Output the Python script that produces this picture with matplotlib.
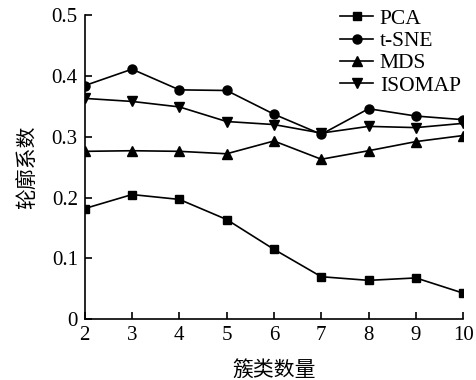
import matplotlib
matplotlib.use('Agg')
import matplotlib.pyplot as plt

plt.rcParams['font.family'] = ['Liberation Serif', 'Noto Sans CJK SC']

# Data
clusters = [2, 3, 4, 5, 6, 7, 8, 9, 10]
pca = [0.182, 0.205, 0.197, 0.164, 0.115, 0.070, 0.064, 0.068, 0.043]
tsne = [0.384, 0.411, 0.377, 0.376, 0.337, 0.304, 0.346, 0.334, 0.328]
mds = [0.276, 0.277, 0.276, 0.272, 0.293, 0.263, 0.277, 0.292, 0.302]
isomap = [0.363, 0.358, 0.349, 0.325, 0.320, 0.306, 0.317, 0.315, 0.322]
yticks = [0, 0.1, 0.2, 0.3, 0.4, 0.5]
ytick_labels = ['0', '0.1', '0.2', '0.3', '0.4', '0.5']

fig = plt.figure(figsize=(4.77, 3.8), dpi=100)
ax = fig.add_axes([0.1776, 0.1597, 0.7935, 0.8008])

style = dict(color='black', linewidth=1.2)
ax.plot(clusters, pca, marker='s', markersize=6, label='PCA', **style)
ax.plot(clusters, tsne, marker='o', markersize=6.5, label='t-SNE', **style)
ax.plot(clusters, mds, marker='^', markersize=7, label='MDS', **style)
ax.plot(clusters, isomap, marker='v', markersize=7, label='ISOMAP', **style)

ax.set_xlim(2, 10)
ax.set_ylim(0, 0.5)
ax.set_xticks(clusters)
ax.set_yticks(yticks)
ax.set_yticklabels(ytick_labels)
ax.spines['top'].set_visible(False)
ax.spines['right'].set_visible(False)
ax.spines['left'].set_linewidth(1.2)
ax.spines['bottom'].set_linewidth(1.2)
ax.tick_params(direction='in', length=5, width=1.2, labelsize=15, pad=5)

ax.set_xlabel('簇类数量', fontsize=15, labelpad=11)
ax.set_ylabel('轮廓系数', fontsize=15, labelpad=10)

ax.legend(loc='upper left', bbox_to_anchor=(327 / 477, 1 + 4 / 380),
          bbox_transform=fig.transFigure, frameon=False, fontsize=15.5,
          handlelength=1.55, handletextpad=0.3, labelspacing=0.1, borderpad=0.1)

fig.savefig('out.png', dpi=100)
